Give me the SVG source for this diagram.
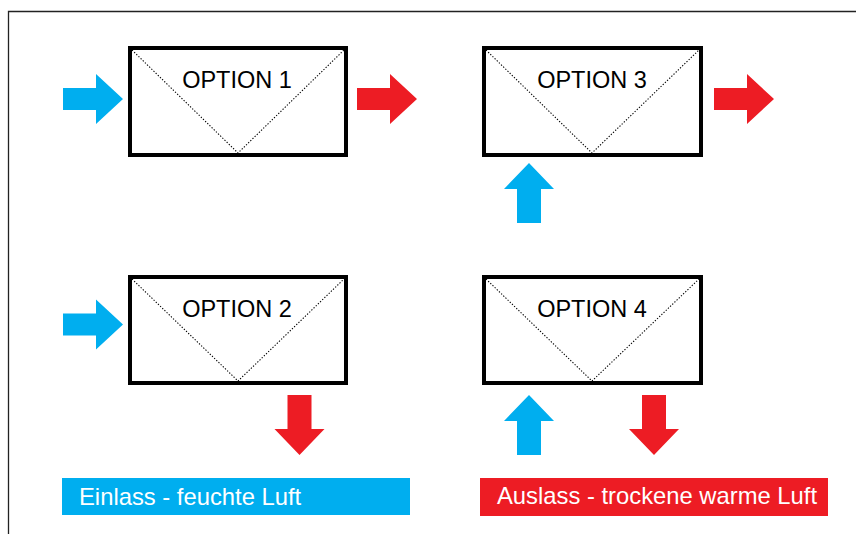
<svg xmlns="http://www.w3.org/2000/svg" width="856" height="534" viewBox="0 0 856 534">
<style>
.box{fill:#fff;stroke:#000;stroke-width:4}
.diag{fill:none;stroke:#000;stroke-width:1.1;stroke-dasharray:1.3 1.7}
.lbl{font-family:"Liberation Sans",Arial,sans-serif;font-size:23.5px;fill:#000;text-anchor:middle}
.blue{fill:#00AEEF}
.red{fill:#ED1C24}
.leg{font-family:"Liberation Sans",Arial,sans-serif;font-size:23.8px;fill:#fff}
</style>
<defs>
<path id="arrR" d="M0,-11 H33 V-25 L60,0 L33,25 V11 H0 Z"/>
<path id="arrU" d="M-12,0 V-34 H-25 L0,-60 L25,-34 H12 V0 Z"/>
<path id="arrD" d="M-12,0 V34 H-25 L0,60 L25,34 H12 V0 Z"/>
</defs>
<rect width="856" height="534" fill="#fff"/>
<path d="M8.5,534 V11.5 H856" fill="none" stroke="#222" stroke-width="1.3"/>

<g id="option1">
<rect class="box" x="130" y="48" width="216" height="107"/>
<path class="diag" d="M132,50 L238,153 L344,50"/>
<text class="lbl" x="237" y="88">OPTION 1</text>
</g>
<g id="option3">
<rect class="box" x="484" y="48" width="217" height="107"/>
<path class="diag" d="M486,50 L592,153 L699,50"/>
<text class="lbl" x="592" y="88">OPTION 3</text>
</g>
<g id="option2">
<rect class="box" x="130" y="277" width="216" height="106"/>
<path class="diag" d="M132,279 L238,381 L344,279"/>
<text class="lbl" x="237" y="317">OPTION 2</text>
</g>
<g id="option4">
<rect class="box" x="484" y="277" width="217" height="106"/>
<path class="diag" d="M486,279 L592,381 L699,279"/>
<text class="lbl" x="592" y="317">OPTION 4</text>
</g>

<g id="connectors">
<use href="#arrR" class="blue" transform="translate(63,99)"/>
<use href="#arrR" class="red" transform="translate(357,99)"/>
<use href="#arrR" class="red" transform="translate(714,99)"/>
<use href="#arrU" class="blue" transform="translate(529,223)"/>
<use href="#arrR" class="blue" transform="translate(63,324.5)"/>
<use href="#arrD" class="red" transform="translate(299.5,395)"/>
<use href="#arrU" class="blue" transform="translate(529,455)"/>
<use href="#arrD" class="red" transform="translate(654,395)"/>
</g>

<g id="legend-inlet">
<rect class="blue" x="62" y="478" width="348" height="37"/>
<text class="leg" x="79" y="505">Einlass - feuchte Luft</text>
</g>
<g id="legend-outlet">
<rect class="red" x="480" y="478" width="348" height="38"/>
<text class="leg" x="497" y="504">Auslass - trockene warme Luft</text>
</g>
</svg>
